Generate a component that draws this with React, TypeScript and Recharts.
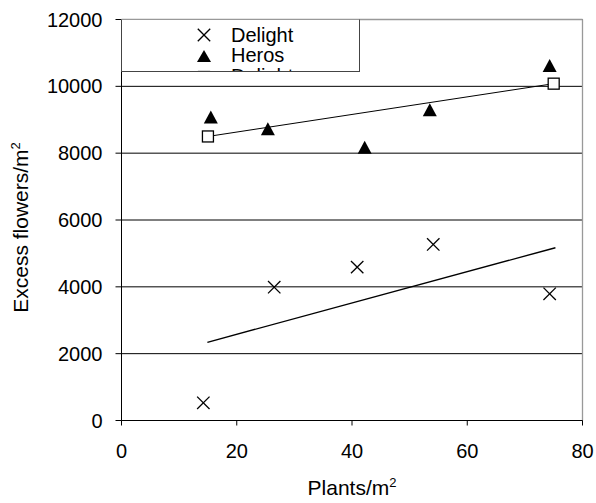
import React from "react";
import {
    ScatterChart,
    Scatter,
    XAxis,
    YAxis,
    CartesianGrid,
    ReferenceLine,
    Legend,
    Label,
} from "recharts";

const FONT = "'Liberation Sans', Arial, Helvetica, sans-serif";

// plants per m2 and excess flowers per m2
const delightPlants = [14.2, 26.5, 40.9, 54.1, 74.3];
const delightFlowers = [530, 3990, 4590, 5270, 3790];

const herosPlants = [15.5, 25.4, 42.2, 53.5, 74.3];
const herosFlowers = [9080, 8730, 8180, 9300, 10620];

// fitted lines (end points)
const herosFitPlants = [15, 75];
const herosFitFlowers = [8500, 10080];
const delightFitPlants = [14.9, 75.3];
const delightFitFlowers = [2340, 5170];

const xTicks = [0, 20, 40, 60, 80];
const yTicks = [0, 2000, 4000, 6000, 8000, 10000, 12000];

// legend rows in the order the original shows them
const legendOrder = ["cross", "triangle", "square"];

const toPoints = (xs: number[], ys: number[]) =>
    xs.map((x, i) => ({ x, y: ys[i] }));

const delightData = toPoints(delightPlants, delightFlowers);
const herosData = toPoints(herosPlants, herosFlowers);
const herosFitData = toPoints(herosFitPlants, herosFitFlowers);
const delightFitData = toPoints(delightFitPlants, delightFitFlowers);

const CrossMark = (props: any) => {
    const { cx, cy } = props;
    const r = 6.2;
    return (
        <g stroke="#000" strokeWidth={1.3}>
            <line x1={cx - r} y1={cy - r} x2={cx + r} y2={cy + r} />
            <line x1={cx - r} y1={cy + r} x2={cx + r} y2={cy - r} />
        </g>
    );
};

const TriangleMark = (props: any) => {
    const { cx, cy } = props;
    return (
        <polygon
            points={`${cx - 7},${cy + 6.5} ${cx},${cy - 6.5} ${cx + 7},${cy + 6.5}`}
            fill="#000"
        />
    );
};

const SquareMark = (props: any) => {
    const { cx, cy } = props;
    return (
        <rect
            x={cx - 5.5}
            y={cy - 5.5}
            width={11}
            height={11}
            fill="#fff"
            stroke="#000"
            strokeWidth={1.3}
        />
    );
};

const NoMark = () => <g />;

const legendMarker = (type: string) => {
    if (type === "cross") {
        return (
            <svg width={14} height={14}>
                <CrossMark cx={7} cy={7} />
            </svg>
        );
    }
    if (type === "triangle") {
        return (
            <svg width={14} height={14}>
                <polygon points="0,13 7,1 14,13" fill="#000" />
            </svg>
        );
    }
    return (
        <svg width={14} height={14}>
            <SquareMark cx={7} cy={7} />
        </svg>
    );
};

const renderLegend = (props: any) => {
    const payload = (props.payload || [])
        .filter((p: any) => legendOrder.includes(p.type))
        .sort(
            (a: any, b: any) =>
                legendOrder.indexOf(a.type) - legendOrder.indexOf(b.type)
        );
    return (
        <div
            style={{
                width: 239,
                height: 52.5,
                boxSizing: "border-box",
                border: "1px solid #444",
                borderTop: "1px solid #999",
                background: "#fff",
                overflow: "hidden",
                paddingTop: 4.6,
                fontFamily: FONT,
                fontSize: 20,
                color: "#000",
            }}
        >
            {payload.map((entry: any, i: number) => (
                <div
                    key={i}
                    style={{ position: "relative", height: 20.8, lineHeight: "20.8px" }}
                >
                    <div style={{ position: "absolute", left: 74.5, top: 3.4, lineHeight: 0 }}>
                        {legendMarker(entry.type)}
                    </div>
                    <span style={{ position: "absolute", left: 109 }}>{entry.value}</span>
                </div>
            ))}
        </div>
    );
};

const YTitle = (props: any) => {
    const { x, y, height } = props.viewBox;
    const cx = x + 28;
    const cy = y + height / 2 + 7.5;
    return (
        <text
            x={cx}
            y={cy}
            transform={`rotate(-90, ${cx}, ${cy})`}
            textAnchor="middle"
            fontFamily={FONT}
            fontSize={21}
            fill="#000"
        >
            Excess flowers/m
            <tspan dy={-8} fontSize={13}>
                2
            </tspan>
        </text>
    );
};

const XTitle = (props: any) => {
    const { x, y, width } = props.viewBox;
    return (
        <text
            x={x + width / 2}
            y={y + 74.5}
            textAnchor="middle"
            fontFamily={FONT}
            fontSize={21}
            fill="#000"
        >
            Plants/m
            <tspan dy={-8} fontSize={13}>
                2
            </tspan>
        </text>
    );
};

export default function App() {
    return (
        <div style={{ position: "absolute", left: 0, top: 0, background: "#fff" }}>
            <ScatterChart
                width={596}
                height={503}
                margin={{ top: 19.5, right: 13.5, bottom: 0, left: 0 }}
            >
                <CartesianGrid vertical={false} stroke="#000" strokeWidth={1} />
                <XAxis
                    type="number"
                    dataKey="x"
                    domain={[0, 80]}
                    ticks={xTicks}
                    height={82.5}
                    stroke="#000"
                    tickSize={5}
                    tickMargin={18}
                    tick={{ fill: "#000", fontSize: 20, fontFamily: FONT }}
                >
                    <Label content={<XTitle />} />
                </XAxis>
                <YAxis
                    type="number"
                    dataKey="y"
                    domain={[0, 12000]}
                    ticks={yTicks}
                    width={121.5}
                    stroke="#000"
                    tickSize={6}
                    tickMargin={13}
                    tick={{ fill: "#000", fontSize: 20, fontFamily: FONT }}
                >
                    <Label content={<YTitle />} />
                </YAxis>
                <ReferenceLine y={12000} stroke="#999" strokeWidth={1.3} />
                <ReferenceLine x={80} stroke="#999" strokeWidth={1.3} />
                <Legend
                    layout="vertical"
                    align="center"
                    verticalAlign="middle"
                    wrapperStyle={{ top: 19, left: 121, width: 239, height: 52.5 }}
                    content={renderLegend}
                />
                <Scatter
                    name="Delight"
                    data={delightData}
                    shape={CrossMark}
                    legendType="cross"
                    isAnimationActive={false}
                />
                <Scatter
                    name="Heros"
                    data={herosData}
                    shape={TriangleMark}
                    legendType="triangle"
                    isAnimationActive={false}
                />
                <Scatter
                    name="Delight"
                    data={herosFitData}
                    shape={SquareMark}
                    line={{ stroke: "#000", strokeWidth: 1 }}
                    legendType="square"
                    isAnimationActive={false}
                />
                <Scatter
                    name="Delight fit"
                    data={delightFitData}
                    shape={NoMark}
                    line={{ stroke: "#000", strokeWidth: 1.4 }}
                    legendType="none"
                    isAnimationActive={false}
                />
            </ScatterChart>
        </div>
    );
}
